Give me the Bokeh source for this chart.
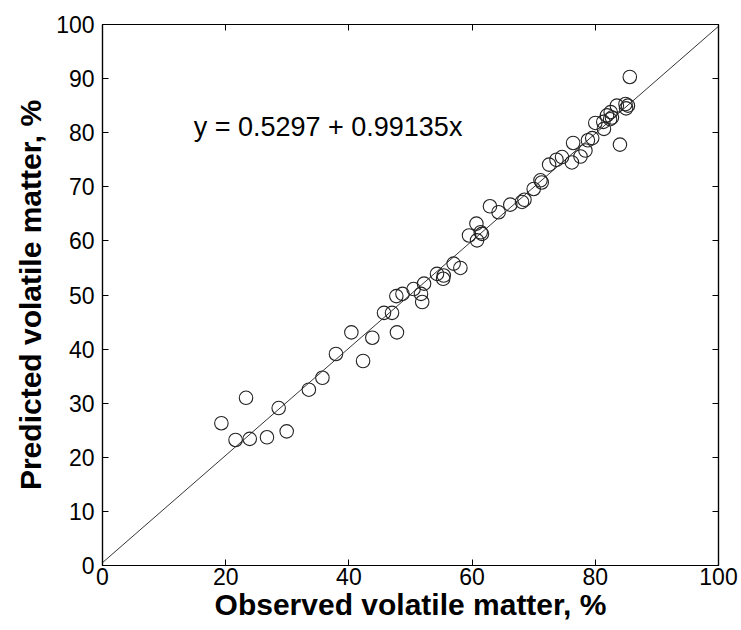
from bokeh.plotting import figure
from bokeh.models import LinearAxis, FixedTicker, Range1d, ColumnDataSource
from bokeh.core.properties import value
from bokeh.embed import file_html
from bokeh.resources import INLINE
import numpy as np

observed = [19.3, 21.6, 23.3, 23.9, 26.7, 28.6, 29.9, 33.5, 35.7, 37.9,
            40.4, 42.3, 43.8, 45.7, 47.0, 47.7, 47.8, 48.7, 50.5, 51.7,
            51.9, 52.2, 54.3, 55.3, 55.4, 57.0, 58.1, 59.5, 60.7, 60.8,
            61.4, 61.6, 62.9, 64.3, 66.2, 68.1, 68.5, 70.0, 71.1, 71.3,
            72.5, 73.7, 74.6, 76.2, 76.4, 77.6, 78.4, 78.8, 79.5, 80.0,
            81.4, 81.9, 82.4, 82.7, 82.5, 81.3, 83.5, 84.0, 84.9, 85.3,
            85.0, 85.6]
predicted = [26.3, 23.2, 31.0, 23.4, 23.7, 29.1, 24.8, 32.5, 34.7, 39.1,
             43.1, 37.8, 42.1, 46.7, 46.7, 49.8, 43.1, 50.2, 51.1, 50.2,
             48.7, 52.1, 53.9, 53.0, 53.6, 55.8, 55.0, 61.0, 63.2, 60.1,
             61.6, 61.3, 66.4, 65.3, 66.7, 67.2, 67.6, 69.6, 71.2, 70.8,
             74.1, 75.0, 75.5, 74.5, 78.1, 75.6, 76.7, 78.6, 79.0, 81.8,
             80.7, 83.2, 82.5, 82.8, 83.8, 82.0, 85.0, 77.8, 85.3, 85.0,
             84.5, 90.3]
intercept = 0.5297
slope = 0.99135
equation = "y = 0.5297 + 0.99135x"
x_ticks = [0, 20, 40, 60, 80, 100]
y_ticks = [0, 10, 20, 30, 40, 50, 60, 70, 80, 90, 100]

p = figure(width=741, height=630, output_backend="svg", toolbar_location=None,
           x_range=Range1d(0, 100), y_range=Range1d(0, 100),
           min_border_left=102, min_border_right=23, min_border_top=24, min_border_bottom=65)
p.background_fill_color = "white"
p.border_fill_color = "white"
p.xgrid.visible = False
p.ygrid.visible = False
p.outline_line_color = "black"
p.outline_line_width = 1.2

font = "Liberation Sans"

def style_axis(ax, ticks, labels=True):
    ax.ticker = FixedTicker(ticks=ticks)
    ax.major_tick_in = 6
    ax.major_tick_out = 0
    ax.minor_tick_line_color = None
    ax.axis_line_color = "black"
    ax.axis_line_width = 1.2
    ax.major_tick_line_color = "black"
    ax.major_label_text_font = font
    ax.major_label_text_font_size = "23px"
    ax.major_label_text_color = "black"
    ax.axis_label_text_font = font
    ax.axis_label_text_font_size = "30px"
    ax.axis_label_text_font_style = "bold"
    ax.axis_label_text_color = "black"
    if not labels:
        ax.major_label_overrides = {t: "" for t in ticks}
        ax.major_label_standoff = 0

style_axis(p.xaxis[0], x_ticks)
style_axis(p.yaxis[0], y_ticks)
p.xaxis[0].axis_label = "Observed volatile matter, %"
p.yaxis[0].axis_label = "Predicted volatile matter, %"
p.xaxis[0].major_label_standoff = 2
p.xaxis[0].axis_label_standoff = 0
p.yaxis[0].major_label_standoff = 8
p.yaxis[0].axis_label_standoff = 6

top_ax = LinearAxis()
style_axis(top_ax, x_ticks, labels=False)
p.add_layout(top_ax, "above")
right_ax = LinearAxis()
style_axis(right_ax, y_ticks, labels=False)
p.add_layout(right_ax, "right")

xs = np.array([0.0, 100.0])
p.line(xs, intercept + slope * xs, line_color="black", line_width=0.8)

src = ColumnDataSource(data=dict(x=observed, y=predicted))
p.scatter("x", "y", source=src, marker="circle", size=13.5, fill_color=None,
          line_color="#222222", line_width=1.1)

p.text(x=[14.8], y=[81.0], text=[equation], text_font=value(font),
       text_font_size="27px", text_color="black", text_baseline="middle", text_align="left")

open("out.html", "w").write(file_html(p, INLINE))
